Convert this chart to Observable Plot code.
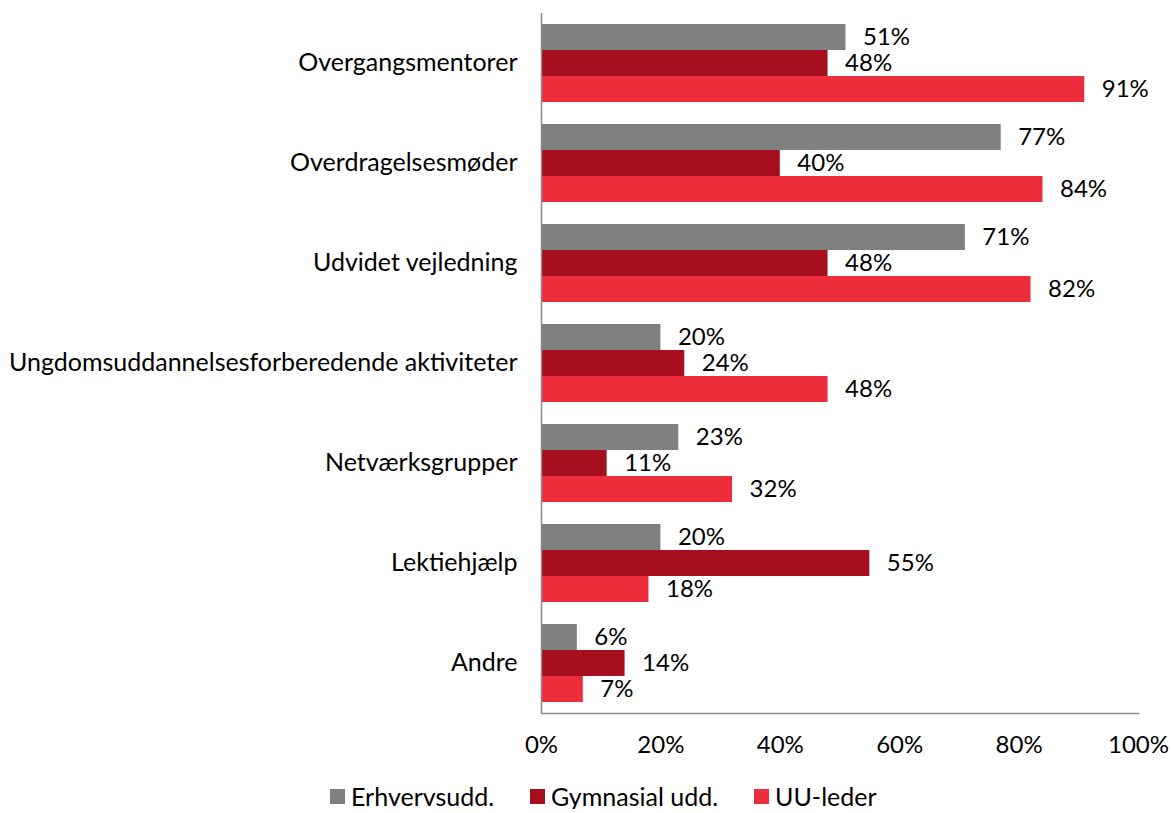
<!DOCTYPE html>
<html>
<head>
<meta charset="utf-8">
<script src="https://cdn.jsdelivr.net/npm/d3@7"></script>
<script src="https://cdn.jsdelivr.net/npm/@observablehq/plot@0.6"></script>
<style>
  html, body { margin: 0; background: #fff; font-family: Lato, "Open Sans", sans-serif; overflow: hidden; }
  #legend { display: flex; align-items: center; padding-left: 330px; margin-top: 14px; font-size: 25px; line-height: 25px; color: #000; white-space: nowrap; }
  #legend .item { display: flex; align-items: center; margin-right: 36px; }
  #legend .sw { width: 15px; height: 15px; margin-right: 6px; }
</style>
</head>
<body>
<div id="chart"></div>
<div id="legend"></div>
<script>
const categories = ["Overgangsmentorer", "Overdragelsesmøder", "Udvidet vejledning", "Ungdomsuddannelsesforberedende aktiviteter", "Netværksgrupper", "Lektiehjælp", "Andre"];
const seriesNames = ["Erhvervsudd.", "Gymnasial udd.", "UU-leder"];
const erhvervsudd = [51, 77, 71, 20, 23, 20, 6];
const gymnasial = [48, 40, 48, 24, 11, 55, 14];
const uuLeder = [91, 84, 82, 48, 32, 18, 7];
const xTicks = [0, 20, 40, 60, 80, 100];
const colors = ["#808080", "#A50F1E", "#EE2D3C"];

const seriesValues = [erhvervsudd, gymnasial, uuLeder];
const data = categories.flatMap((c, i) => seriesNames.map((s, j) => ({category: c, series: s, value: seriesValues[j][i]})));

const axisColor = "#898989";
const plot = Plot.plot({
  width: 1171,
  height: 770,
  marginLeft: 541,
  marginRight: 33,
  marginTop: 12,
  marginBottom: 57,
  style: {fontSize: "24px", fontFamily: "Lato, 'Open Sans', sans-serif", color: "#000", background: "#fff"},
  x: {domain: [0, 100], axis: null},
  y: {domain: seriesNames, padding: 0, axis: null},
  fy: {domain: categories, paddingInner: 0.2, paddingOuter: 0.1, axis: null, label: null},
  color: {domain: seriesNames, range: colors},
  marks: [
    Plot.barX(data, {fy: "category", y: "series", x: "value", fill: "series"}),
    Plot.text(data, {fy: "category", y: "series", x: "value", text: d => d.value + "%", textAnchor: "start", dx: 17, dy: 0, fill: "#000"}),
    Plot.axisFy({anchor: "left", tickSize: 0, tickPadding: 24, dy: -1, fontSize: 25, label: null}),
    Plot.ruleX([0], {stroke: axisColor, strokeWidth: 1.5, insetTop: -10, insetBottom: -10}),
    Plot.frame({anchor: "bottom", facetAnchor: "bottom", stroke: axisColor, strokeWidth: 1.5, insetBottom: -10}),
    Plot.axisX({anchor: "bottom", facetAnchor: "bottom", ticks: xTicks, tickFormat: d => d + "%", tickSize: 0, tickPadding: 32, label: null})
  ]
});
document.getElementById("chart").appendChild(plot);

const legend = document.getElementById("legend");
seriesNames.forEach((s, i) => {
  const item = document.createElement("div");
  item.className = "item";
  const sw = document.createElement("div");
  sw.className = "sw";
  sw.style.background = colors[i];
  const label = document.createElement("span");
  label.textContent = s;
  item.appendChild(sw);
  item.appendChild(label);
  legend.appendChild(item);
});
</script>
</body>
</html>
